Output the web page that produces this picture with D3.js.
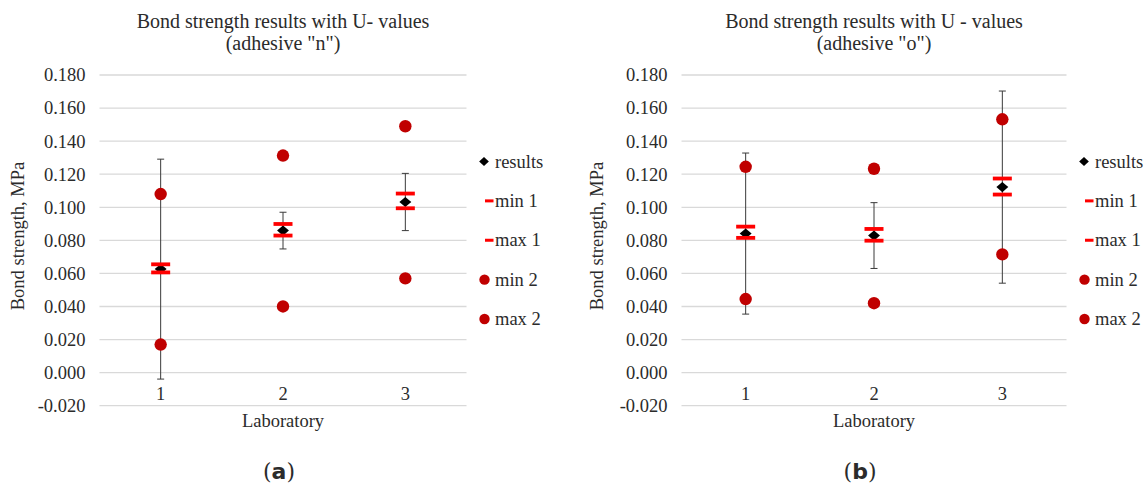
<!DOCTYPE html>
<html>
<head>
<meta charset="utf-8">
<script src="https://cdn.jsdelivr.net/npm/d3@7"></script>
<style>
  html, body { margin: 0; padding: 0; background: #fff; }
  svg { display: block; }
  text { font-family: "Liberation Serif", "Times New Roman", serif; fill: #2b2b2b; }
</style>
</head>
<body>
<svg id="chart" width="1145" height="486"></svg>
<script>
// ---- data ----
const categories = ["1", "2", "3"];
const yTicks = [-0.02, 0.0, 0.02, 0.04, 0.06, 0.08, 0.10, 0.12, 0.14, 0.16, 0.18];
const legendLabels = ["results", "min 1", "max 1", "min 2", "max 2"];

// panel (a): adhesive "n"
const resultsA = [0.0626, 0.0859, 0.1032];
const uA       = [0.0665, 0.0111, 0.0173];
const min1A    = [0.0606, 0.0829, 0.0994];
const max1A    = [0.0655, 0.0899, 0.1083];
const min2A    = [0.0170, 0.0400, 0.0570];
const max2A    = [0.1080, 0.1313, 0.1490];

// panel (b): adhesive "o"
const resultsB = [0.0841, 0.0829, 0.1122];
const uB       = [0.0487, 0.0199, 0.0581];
const min1B    = [0.0815, 0.0798, 0.1077];
const max1B    = [0.0883, 0.0869, 0.1174];
const min2B    = [0.0445, 0.0420, 0.0715];
const max2B    = [0.1245, 0.1233, 0.1532];

const titlesA = ["Bond strength results with U- values", "(adhesive \"n\")"];
const titlesB = ["Bond strength results with U - values", "(adhesive \"o\")"];

// ---- drawing ----
const svg = d3.select("#chart");
const RED = "#ff0000", DARKRED = "#c00000";
const fmt = d => d3.format(".3f")(d).replace("\u2212", "-");

function panel(opt) {
  const g = svg.append("g");
  const x = d3.scaleBand().domain(categories).range([opt.x0, opt.x1]);
  const y = d3.scaleLinear().domain([-0.02, 0.18]).range([405.7, 75]);
  const cx = d => x(d) + x.bandwidth() / 2;

  // gridlines
  g.append("g").selectAll("line").data(yTicks).join("line")
    .attr("x1", opt.x0).attr("x2", opt.x1)
    .attr("y1", d => y(d)).attr("y2", d => y(d))
    .attr("stroke", "#d9d9d9").attr("stroke-width", 1.3);

  // y axis labels
  const yAxis = d3.axisLeft(y).tickValues(yTicks).tickFormat(fmt).tickSize(0).tickPadding(0);
  const ya = g.append("g").attr("transform", `translate(${opt.x0 - 14},0)`).call(yAxis);
  ya.select(".domain").remove();
  ya.selectAll("text").attr("font-size", 18.5).attr("fill", "#2b2b2b")
    .style("font-family", "'Liberation Serif', serif");

  // x axis labels (placed just below the zero line)
  const xAxis = d3.axisBottom(x).tickSize(0).tickPadding(0);
  const xa = g.append("g").attr("transform", `translate(0,${y(0) + 14})`).call(xAxis);
  xa.select(".domain").remove();
  xa.selectAll("text").attr("font-size", 18.5).attr("fill", "#2b2b2b")
    .style("font-family", "'Liberation Serif', serif");

  // titles
  g.append("text").attr("x", (opt.x0 + opt.x1) / 2).attr("y", 28)
    .attr("text-anchor", "middle").attr("font-size", 20).text(opt.titles[0]);
  g.append("text").attr("x", (opt.x0 + opt.x1) / 2).attr("y", 49.5)
    .attr("text-anchor", "middle").attr("font-size", 20).text(opt.titles[1]);

  // axis titles
  g.append("text").attr("x", (opt.x0 + opt.x1) / 2).attr("y", 427)
    .attr("text-anchor", "middle").attr("font-size", 18.5).text("Laboratory");
  g.append("text")
    .attr("transform", `translate(${opt.yLabelX},${236}) rotate(-90)`)
    .attr("text-anchor", "middle").attr("font-size", 18.5).text("Bond strength, MPa");

  const idx = [0, 1, 2];
  // error bars on results
  const eb = g.append("g").attr("stroke", "#3a3a3a").attr("stroke-width", 1);
  eb.selectAll(".v").data(idx).join("line")
    .attr("x1", i => cx(categories[i])).attr("x2", i => cx(categories[i]))
    .attr("y1", i => y(opt.results[i] + opt.u[i])).attr("y2", i => y(opt.results[i] - opt.u[i]));
  [1, -1].forEach(s => {
    eb.selectAll(".c" + s).data(idx).join("line")
      .attr("x1", i => cx(categories[i]) - 3.5).attr("x2", i => cx(categories[i]) + 3.5)
      .attr("y1", i => y(opt.results[i] + s * opt.u[i])).attr("y2", i => y(opt.results[i] + s * opt.u[i]));
  });

  // results diamonds
  const dia = d3.symbol().type(d3.symbolDiamond2).size(82);
  g.append("g").selectAll("path").data(idx).join("path")
    .attr("d", dia)
    .attr("transform", i => `translate(${cx(categories[i])},${y(opt.results[i])}) scale(1.05,0.9)`)
    .attr("fill", "#000");

  // min1 / max1 dashes
  [opt.min1, opt.max1].forEach(arr => {
    g.append("g").selectAll("rect").data(idx).join("rect")
      .attr("x", i => cx(categories[i]) - 9.5).attr("width", 19)
      .attr("y", i => y(arr[i]) - 1.9).attr("height", 3.8)
      .attr("fill", RED);
  });

  // min2 / max2 circles
  [opt.min2, opt.max2].forEach(arr => {
    g.append("g").selectAll("circle").data(idx).join("circle")
      .attr("cx", i => cx(categories[i])).attr("cy", i => y(arr[i]))
      .attr("r", 6.2).attr("fill", DARKRED);
  });

  // legend
  const lg = g.append("g").attr("transform", `translate(${opt.x1 + 17.5},0)`);
  const ly = d3.scalePoint().domain(legendLabels).range([161.5, 319]);
  legendLabels.forEach((lab, k) => {
    const yy = ly(lab);
    if (k === 0) {
      lg.append("path").attr("d", d3.symbol().type(d3.symbolDiamond2).size(60))
        .attr("transform", `translate(0,${yy}) scale(1,0.95)`).attr("fill", "#000");
    } else if (k < 3) {
      lg.append("rect").attr("x", 1).attr("y", yy - 1.5).attr("width", 8.5).attr("height", 3).attr("fill", RED);
    } else {
      lg.append("circle").attr("cx", 0.5).attr("cy", yy).attr("r", 5.2).attr("fill", DARKRED);
    }
    lg.append("text").attr("x", 11).attr("y", yy + 6).attr("font-size", 18.5).text(lab);
  });

  // caption
  const cap = g.append("text").attr("x", opt.capX).attr("y", 479)
    .attr("text-anchor", "middle").attr("font-size", 22)
    .style("font-family", "'DejaVu Serif', serif");
  cap.append("tspan").text("(");
  cap.append("tspan").attr("font-weight", "bold").style("font-family", "'DejaVu Sans', sans-serif").text(opt.cap);
  cap.append("tspan").text(")");
}

panel({ x0: 99.5, x1: 466.5, results: resultsA, u: uA, min1: min1A, max1: max1A,
        min2: min2A, max2: max2A, titles: titlesA, yLabelX: 24, capX: 279, cap: "a" });
panel({ x0: 681.5, x1: 1066.5, results: resultsB, u: uB, min1: min1B, max1: max1B,
        min2: min2B, max2: max2B, titles: titlesB, yLabelX: 603, capX: 860, cap: "b" });
</script>
</body>
</html>
